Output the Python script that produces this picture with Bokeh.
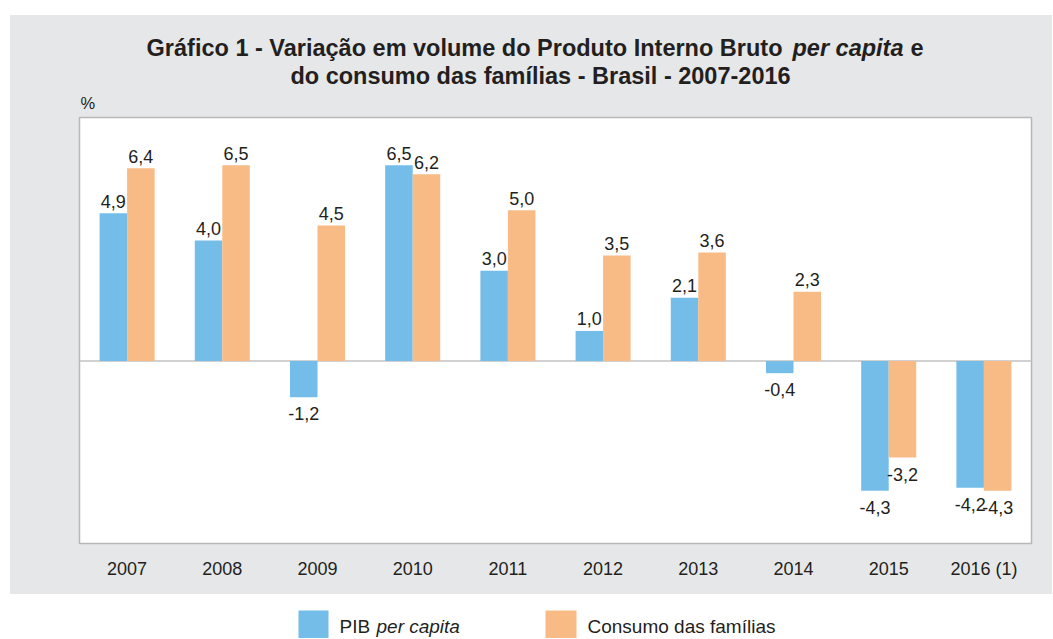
from bokeh.plotting import figure
from bokeh.models import ColumnDataSource, Span, Range1d
from bokeh.transform import dodge
from bokeh.layouts import column
from bokeh.core.properties import value
from bokeh.embed import file_html
from bokeh.resources import INLINE

# ---------------- data ----------------
years = ["2007", "2008", "2009", "2010", "2011", "2012", "2013", "2014", "2015", "2016 (1)"]
pib_per_capita = [4.9, 4.0, -1.2, 6.5, 3.0, 1.0, 2.1, -0.4, -4.3, -4.2]
consumo_familias = [6.4, 6.5, 4.5, 6.2, 5.0, 3.5, 3.6, 2.3, -3.2, -4.3]

title_line1 = "Gráfico 1 - Variação em volume do Produto Interno Bruto"
title_line1_italic = "per capita"
title_line1_end = "e"
title_line2 = "do consumo das famílias - Brasil - 2007-2016"
unit_label = "%"
legend_pib = "PIB"
legend_pib_italic = "per capita"
legend_consumo = "Consumo das famílias"

# ---------------- style ----------------
BLUE = "#74bde8"
ORANGE = "#f9bb85"
TEXT = "#231f20"
PANEL = "#e6e7e8"
FONT = "Liberation Sans"

W = 1042
H_TOP = 101
H_MAIN = 478
H_LEG = 44
FRAME_L, FRAME_R, FRAME_T, FRAME_B = 69, 21, 1, 51
Y0, Y1 = -6.05, 8.08


def fmt(v):
    return f"{v:.1f}".replace(".", ",")


def strip(height, fill):
    # x data units == figure pixels (frame spans FRAME_L .. W-FRAME_R), y from top
    f = figure(width=W, height=height, x_range=Range1d(FRAME_L, W - FRAME_R),
               y_range=Range1d(height, 0), output_backend="svg", toolbar_location=None,
               x_axis_location=None, y_axis_location=None,
               min_border_left=FRAME_L, min_border_right=FRAME_R,
               min_border_top=0, min_border_bottom=0)
    f.border_fill_color = fill
    f.background_fill_color = fill
    f.outline_line_color = None
    for g in f.grid:
        g.visible = False
    return f


def ttext(fig, txt, x, y, align="left", style="bold", size="23.5px"):
    fig.text(x=[x], y=[y], text=[txt], text_align=align, text_baseline="alphabetic",
             text_font=value(FONT), text_font_style=style, text_font_size=size,
             text_color=TEXT)


# ---------------- title strip ----------------
top = strip(H_TOP, PANEL)
ttext(top, title_line1, 772, 32, align="right")
ttext(top, title_line1_italic, 782, 32, style="bold italic")
ttext(top, title_line1_end, 900, 32)
ttext(top, title_line2, 530, 60, align="center")
ttext(top, unit_label, 70, 87, style="normal", size="16.5px")

# ---------------- main chart ----------------
src = ColumnDataSource(dict(year=years, pib=pib_per_capita, cons=consumo_familias))

p = figure(x_range=years, y_range=Range1d(Y0, Y1), width=W, height=H_MAIN,
           output_backend="svg", toolbar_location=None, y_axis_location=None,
           min_border_left=FRAME_L, min_border_right=FRAME_R,
           min_border_top=FRAME_T, min_border_bottom=FRAME_B)
p.border_fill_color = PANEL
p.background_fill_color = "white"
p.outline_line_color = "#b8b8b8"
p.outline_line_width = 1.5
for g in p.grid:
    g.visible = False

p.add_layout(Span(location=0, dimension="width", line_color="#c2c2c2",
                  line_width=1.5, level="underlay"))

OFF = 0.1445
BW = 0.289
p.vbar(x=dodge("year", -OFF, range=p.x_range), top="pib", bottom=0, width=BW,
       source=src, fill_color=BLUE, line_color=None)
p.vbar(x=dodge("year", OFF, range=p.x_range), top="cons", bottom=0, width=BW,
       source=src, fill_color=ORANGE, line_color=None)

for series, off in ((pib_per_capita, -OFF), (consumo_familias, OFF)):
    pos = dict(year=[y for y, v in zip(years, series) if v >= 0],
               v=[v for v in series if v >= 0],
               t=[fmt(v) for v in series if v >= 0])
    neg = dict(year=[y for y, v in zip(years, series) if v < 0],
               v=[v for v in series if v < 0],
               t=[fmt(v) for v in series if v < 0])
    p.text(x=dodge("year", off, range=p.x_range), y="v", text="t",
           source=ColumnDataSource(pos), text_align="center",
           text_baseline="alphabetic", y_offset=-12,
           text_font=value(FONT), text_font_size="18px", text_color=TEXT)
    p.text(x=dodge("year", off, range=p.x_range), y="v", text="t",
           source=ColumnDataSource(neg), text_align="center",
           text_baseline="top", y_offset=10,
           text_font=value(FONT), text_font_size="18px", text_color=TEXT)

ax = p.xaxis[0]
ax.axis_line_color = None
ax.major_tick_line_color = None
ax.minor_tick_line_color = None
ax.major_tick_out = 0
ax.major_label_standoff = 15
ax.major_label_text_font = FONT
ax.major_label_text_font_size = "18px"
ax.major_label_text_color = TEXT

# ---------------- legend strip ----------------
leg = strip(H_LEG, "white")
leg.quad(left=[288, 535], right=[318, 566], top=[16, 16], bottom=[H_LEG, H_LEG],
         fill_color=[BLUE, ORANGE], line_color=None)
ttext(leg, legend_pib, 329, 32, style="normal", size="19px")
ttext(leg, legend_pib_italic, 366, 32, style="italic", size="19px")
ttext(leg, legend_consumo, 577, 32, style="normal", size="19px")

chart = column(top, p, spacing=0, styles={"background-color": PANEL})
layout = column(chart, leg, spacing=0, margin=(15, 0, 0, 10))

open("out.html", "w").write(file_html(layout, INLINE))
